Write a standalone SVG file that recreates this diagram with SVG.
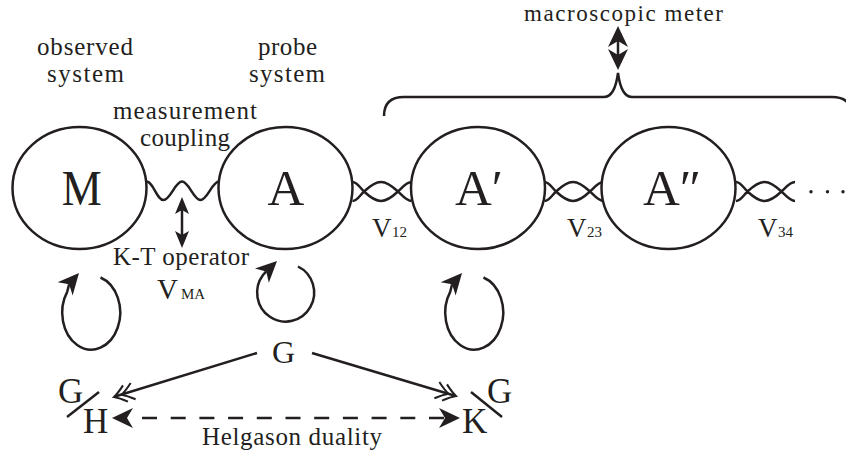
<svg xmlns="http://www.w3.org/2000/svg" xmlns:xlink="http://www.w3.org/1999/xlink" width="846" height="455" viewBox="0 0 846 455">
<style>
  .ln { fill: none; stroke: #231f20; stroke-width: 2.5; }
  .thin { fill: none; stroke: #231f20; stroke-width: 2; }
  .ah { fill: #231f20; stroke: none; }
  .node { fill: #fff; stroke: #231f20; stroke-width: 2.5; }
  text { font-family: "Liberation Serif", "Times New Roman", serif; fill: #231f20; }
  .lbl { font-size: 25px; text-anchor: middle; }
  .big { font-size: 51px; }
  .sub { font-size: 15px; }
  .vv { font-size: 27px; }
  .gg { font-size: 35px; }
</style>
<defs>
  <path id="ahS" d="M0,0 L-17,-7 L-13,0 L-17,7 Z"/>
  <path id="ahL" d="M0,0 L-21,-10 L-15,0 L-21,10 Z"/>
  <path id="chev" d="M-12,-8.5 Q-5,-2.5 0,0 Q-5,2.5 -12,8.5 M-20,-8.5 Q-13,-2.5 -8,0 Q-13,2.5 -20,8.5"/>
  <path id="rib" d="M0,-9.5 C4.5,-9.5 7.5,-3.7 11.5,0 C25.1,12.7 31.9,12.7 45.5,0 C50.2,-4.4 54,-9.5 59,-9.5 M0,9.5 C4.5,9.5 7.5,3.7 11.5,0 C25.1,-12.7 31.9,-12.7 45.5,0 C50.2,4.4 54,9.5 59,9.5"/>
  <path id="loopTall" d="M100.5,277.5 A29,37 0 1 1 67.2,291.8 L69.1,284.3"/>
</defs>

<!-- free labels -->
<g id="labels">
  <text class="lbl" x="85" y="55" textLength="96">observed</text>
  <text class="lbl" x="85.5" y="82" textLength="77">system</text>
  <text class="lbl" x="287.5" y="55" textLength="59">probe</text>
  <text class="lbl" x="287" y="82" textLength="76">system</text>
  <text class="lbl" x="185" y="119" textLength="144">measurement</text>
  <text class="lbl" x="185" y="146" textLength="90">coupling</text>
  <text class="lbl" x="623.5" y="20.5" textLength="199" style="font-size:23px">macroscopic meter</text>
  <text class="lbl" x="181" y="265" textLength="136">K-T operator</text>
  <text class="lbl" x="292" y="445" textLength="180">Helgason duality</text>
  <text x="157" y="299" style="font-size:29px">V</text><text class="sub" x="181" y="299">MA</text>
  <text class="vv" x="372" y="237">V</text><text class="sub" x="392" y="237">12</text>
  <text class="vv" x="567" y="237">V</text><text class="sub" x="587" y="237">23</text>
  <text class="vv" x="758" y="237">V</text><text class="sub" x="778" y="237">34</text>
</g>

<!-- connectors -->
<g id="connectors">
  <!-- brace to macroscopic meter -->
  <path class="ln" d="M384,116 C384,104 390,97 404,97 L604,97 C612,97 616,88 618,73 C620,88 624,97 632,97 L832,97 C846,97 852,104 852,116"/>
  <line class="ln" x1="618" y1="40" x2="618" y2="56"/>
  <use href="#ahL" class="ah" transform="translate(618,26) rotate(-90)"/>
  <use href="#ahL" class="ah" transform="translate(618,70) rotate(90)"/>

  <!-- measurement coupling wave -->
  <path class="ln" d="M146.5,181.6 C153.2,181.6 156.8,200 163.5,200 S175.3,181.6 182,181.6 S193.8,200 200.5,200 S212.3,181.6 219,181.6"/>
  <line class="ln" x1="182" y1="208" x2="182" y2="237"/>
  <use href="#ahS" class="ah" transform="translate(182,197) rotate(-90)"/>
  <use href="#ahS" class="ah" transform="translate(182,248) rotate(90)"/>

  <!-- chain couplings -->
  <use href="#rib" class="ln" x="352.5" y="191.5"/>
  <use href="#rib" class="ln" x="544.5" y="191.5"/>
  <use href="#rib" class="ln" x="736" y="191.5"/>
  <circle class="ah" cx="811" cy="191.7" r="1.7"/>
  <circle class="ah" cx="827.5" cy="191.7" r="1.7"/>
  <circle class="ah" cx="843" cy="191.7" r="1.7"/>

  <!-- self loops -->
  <use href="#loopTall" class="ln"/>
  <use href="#ahL" class="ah" transform="translate(79,273) rotate(-48.7)"/>
  <path class="ln" d="M298,266.5 A28.5,29 0 1 1 263,275 L266.2,271.4"/>
  <use href="#ahL" class="ah" transform="translate(277,261) rotate(-44)"/>
  <use href="#loopTall" class="ln" transform="translate(383,0)"/>
  <use href="#ahL" class="ah" transform="translate(462,273) rotate(-48.7)"/>

  <!-- G projections -->
  <line class="ln" x1="257" y1="353" x2="115" y2="396.5"/>
  <use href="#chev" class="thin" transform="translate(114,397) rotate(163)"/>
  <line class="ln" x1="312" y1="353" x2="455" y2="395.7"/>
  <use href="#chev" class="thin" transform="translate(456,396) rotate(17)"/>

  <!-- Helgason duality -->
  <line class="ln" x1="142" y1="418" x2="444" y2="418" stroke-dasharray="15 13.7"/>
  <use href="#ahL" class="ah" transform="translate(112,418) rotate(180)"/>
  <use href="#ahL" class="ah" transform="translate(460,418)"/>
</g>

<!-- nodes -->
<g id="node-M">
  <ellipse class="node" cx="79.5" cy="188" rx="67" ry="61"/>
  <text class="big" x="81.7" y="205" text-anchor="middle" textLength="40" lengthAdjust="spacingAndGlyphs">M</text>
</g>
<g id="node-A">
  <ellipse class="node" cx="285.5" cy="188" rx="67" ry="61"/>
  <text class="big" x="286" y="205" text-anchor="middle">A</text>
</g>
<g id="node-A1">
  <ellipse class="node" cx="478" cy="188" rx="67" ry="61"/>
  <text class="big" x="455" y="205">A′</text>
</g>
<g id="node-A2">
  <ellipse class="node" cx="668.5" cy="188" rx="67" ry="61"/>
  <text class="big" x="643" y="205">A″</text>
</g>
<g id="node-G">
  <text x="283.5" y="363" text-anchor="middle" style="font-size:32px">G</text>
</g>
<g id="node-GH">
  <text class="gg" x="58" y="403">G</text>
  <line class="ln" x1="67" y1="417" x2="99" y2="392"/>
  <text class="gg" x="83" y="433">H</text>
</g>
<g id="node-KG">
  <text class="gg" x="462" y="433">K</text>
  <line class="ln" x1="471" y1="392" x2="502" y2="417"/>
  <text class="gg" x="487" y="403">G</text>
</g>
</svg>
